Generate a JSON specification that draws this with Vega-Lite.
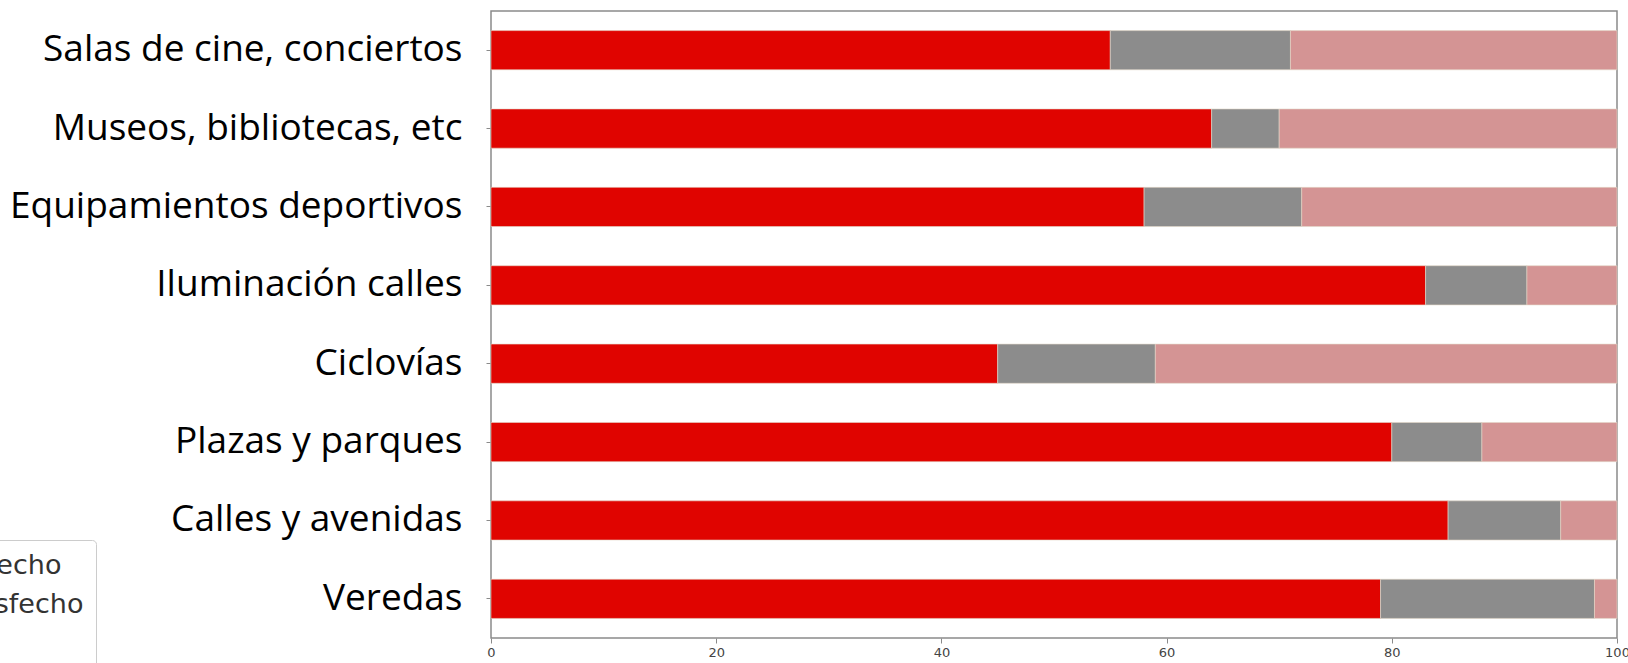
{
  "$schema": "https://vega.github.io/schema/vega-lite/v6.json",
  "width": 1126,
  "height": 627,
  "autosize": {"type": "none"},
  "padding": {"left": 491, "top": 11, "right": 11, "bottom": 25},
  "background": "white",
  "config": {"view": {"stroke": "#8a8a8a", "strokeWidth": 1.5}},
  "data": {
    "values": [
      {"categoria": "Salas de cine, conciertos", "nivel": "Satisfecho", "porcentaje": 55},
      {"categoria": "Salas de cine, conciertos", "nivel": "Neutral", "porcentaje": 16},
      {"categoria": "Salas de cine, conciertos", "nivel": "Insatisfecho", "porcentaje": 29},
      {"categoria": "Museos, bibliotecas, etc", "nivel": "Satisfecho", "porcentaje": 64},
      {"categoria": "Museos, bibliotecas, etc", "nivel": "Neutral", "porcentaje": 6},
      {"categoria": "Museos, bibliotecas, etc", "nivel": "Insatisfecho", "porcentaje": 30},
      {"categoria": "Equipamientos deportivos", "nivel": "Satisfecho", "porcentaje": 58},
      {"categoria": "Equipamientos deportivos", "nivel": "Neutral", "porcentaje": 14},
      {"categoria": "Equipamientos deportivos", "nivel": "Insatisfecho", "porcentaje": 28},
      {"categoria": "Iluminación calles", "nivel": "Satisfecho", "porcentaje": 83},
      {"categoria": "Iluminación calles", "nivel": "Neutral", "porcentaje": 9},
      {"categoria": "Iluminación calles", "nivel": "Insatisfecho", "porcentaje": 8},
      {"categoria": "Ciclovías", "nivel": "Satisfecho", "porcentaje": 45},
      {"categoria": "Ciclovías", "nivel": "Neutral", "porcentaje": 14},
      {"categoria": "Ciclovías", "nivel": "Insatisfecho", "porcentaje": 41},
      {"categoria": "Plazas y parques", "nivel": "Satisfecho", "porcentaje": 80},
      {"categoria": "Plazas y parques", "nivel": "Neutral", "porcentaje": 8},
      {"categoria": "Plazas y parques", "nivel": "Insatisfecho", "porcentaje": 12},
      {"categoria": "Calles y avenidas", "nivel": "Satisfecho", "porcentaje": 85},
      {"categoria": "Calles y avenidas", "nivel": "Neutral", "porcentaje": 10},
      {"categoria": "Calles y avenidas", "nivel": "Insatisfecho", "porcentaje": 5},
      {"categoria": "Veredas", "nivel": "Satisfecho", "porcentaje": 79},
      {"categoria": "Veredas", "nivel": "Neutral", "porcentaje": 19},
      {"categoria": "Veredas", "nivel": "Insatisfecho", "porcentaje": 2}
    ]
  },
  "mark": {"type": "bar", "stroke": "#e3d6c8", "strokeWidth": 0.6},
  "encoding": {
    "y": {
      "field": "categoria",
      "type": "nominal",
      "sort": ["Salas de cine, conciertos", "Museos, bibliotecas, etc", "Equipamientos deportivos", "Iluminación calles", "Ciclovías", "Plazas y parques", "Calles y avenidas", "Veredas"],
      "scale": {"paddingInner": 0.5, "paddingOuter": 0.25},
      "axis": {
        "title": null,
        "labelFont": "Open Sans",
        "labelFontSize": 37,
        "labelColor": "#000000",
        "labelLimit": 800,
        "tickSize": 5,
        "tickColor": "#8a8a8a",
        "labelPadding": 24,
        "domain": false
      }
    },
    "x": {
      "field": "porcentaje",
      "type": "quantitative",
      "stack": "zero",
      "scale": {"domain": [0, 100], "nice": false},
      "axis": {
        "title": null,
        "values": [0, 20, 40, 60, 80, 100],
        "labelFont": "DejaVu Sans",
        "labelFontSize": 13,
        "labelColor": "#444444",
        "labelFlush": false,
        "tickSize": 5,
        "tickColor": "#8a8a8a",
        "labelPadding": 3,
        "grid": false,
        "domain": false
      }
    },
    "order": {"field": "nivel", "type": "nominal", "sort": "descending"},
    "color": {
      "field": "nivel",
      "type": "nominal",
      "sort": ["Satisfecho", "Neutral", "Insatisfecho"],
      "scale": {"domain": ["Satisfecho", "Neutral", "Insatisfecho"], "range": ["#e00400", "#8c8c8c", "#d49494"]},
      "legend": {
        "orient": "none",
        "legendX": -625,
        "legendY": 529,
        "title": null,
        "values": ["Satisfecho", "Insatisfecho", "Neutral"],
        "labelExpr": "datum.label == 'Neutral' ? '' : datum.label",
        "labelFont": "DejaVu Sans",
        "labelFontSize": 27,
        "labelColor": "#333333",
        "labelLimit": 400,
        "labelOffset": 16,
        "symbolType": "square",
        "symbolSize": 400,
        "symbolStrokeWidth": 0,
        "rowPadding": 11,
        "padding": 12,
        "cornerRadius": 4,
        "strokeColor": "#cccccc",
        "fillColor": "#ffffff"
      }
    }
  }
}
